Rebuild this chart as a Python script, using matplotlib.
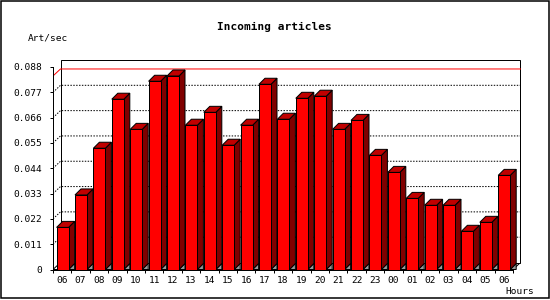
import matplotlib
matplotlib.use('Agg')
import matplotlib.pyplot as plt
from matplotlib.patches import Polygon, Rectangle
import numpy as np

# ---------------- data ----------------
hours = ['06', '07', '08', '09', '10', '11', '12', '13', '14', '15', '16', '17',
         '18', '19', '20', '21', '22', '23', '00', '01', '02', '03', '04', '05', '06']
rate = [0.0183, 0.0324, 0.0527, 0.0740, 0.0609, 0.0818, 0.0841, 0.0627, 0.0683,
        0.0540, 0.0627, 0.0805, 0.0653, 0.0744, 0.0753, 0.0609, 0.0648, 0.0496,
        0.0422, 0.0309, 0.0279, 0.0279, 0.0166, 0.0205, 0.0409]
yticks = [0, 0.011, 0.022, 0.033, 0.044, 0.055, 0.066, 0.077, 0.088]
ytick_labels = ['0', '0.011', '0.022', '0.033', '0.044', '0.055', '0.066', '0.077', '0.088']
title = 'Incoming articles'
ylabel = 'Art/sec'
xlabel = 'Hours'

# ---------------- layout ----------------
W, H = 550, 300
PX_CAT = 18.4            # pixels per category
YTOP = yticks[-1]
PX_Y = 202.5 / YTOP      # pixels per unit value
X0_PX, Y0_PX = 53, 269.5  # front origin (pixels from top-left)
RIGHT_PX, TOP_PX = 521, 60

FONT = 'DejaVu Sans Mono'
FS = 6.8

fig = plt.figure(figsize=(W / 100, H / 100), dpi=100)
ax = fig.add_axes([X0_PX / W, (H - Y0_PX) / H, (RIGHT_PX - X0_PX) / W, (Y0_PX - TOP_PX) / H])
n = len(rate)
ax.set_xlim(-0.5, -0.5 + (RIGHT_PX - X0_PX) / PX_CAT)
ax.set_ylim(0, (Y0_PX - TOP_PX) / PX_Y)

# depth offsets in data units
wdx, wdy = 7.5 / PX_CAT, 7 / PX_Y      # wall depth
bdx, bdy = 6 / PX_CAT, 6 / PX_Y        # bar depth
xend = n - 0.5
LW = 0.72

# floor
floor = Polygon([(-0.5, 0), (xend, 0), (xend + wdx, wdy), (-0.5 + wdx, wdy)],
                closed=True, facecolor='white', edgecolor='black', lw=LW, zorder=1)
ax.add_patch(floor)
# back wall
wall = Rectangle((-0.5 + wdx, wdy), n, YTOP, facecolor='white', edgecolor='black',
                 lw=LW, zorder=1)
ax.add_patch(wall)

# grid lines (dotted, on left wall diagonal + back wall)
for t in yticks[1:-1]:
    ax.plot([-0.5, -0.5 + wdx, xend + wdx], [t, t + wdy, t + wdy], color='black',
            lw=LW, dashes=(1.44, 1.44), zorder=2, solid_capstyle='butt')

# max line
m = max(rate)
ax.plot([-0.5, -0.5 + wdx, xend + wdx], [m, m + wdy, m + wdy], color='#ff0000',
        lw=LW, zorder=2)

# bars
bw = 12 / PX_CAT
x_left = np.arange(n) - 0.5 + 3.6 / PX_CAT
ax.bar(x_left, rate, width=bw, align='edge', color='#ff0000', edgecolor='black',
       linewidth=LW, zorder=5)
for xl, v in zip(x_left, rate):
    xr = xl + bw
    ax.add_patch(Polygon([(xr, 0), (xr + bdx, bdy), (xr + bdx, 0)], closed=True,
                         facecolor='#999999', edgecolor='black', lw=LW, zorder=4))
    ax.add_patch(Polygon([(xr, 0), (xr + bdx, bdy), (xr + bdx, v + bdy), (xr, v)],
                         closed=True, facecolor='#800000', edgecolor='black',
                         lw=LW, zorder=4))
    ax.add_patch(Polygon([(xl, v), (xr, v), (xr + bdx, v + bdy), (xl + bdx, v + bdy)],
                         closed=True, facecolor='#c00000', edgecolor='black',
                         lw=LW, zorder=4))

# axes spines / ticks
for s in ['top', 'right']:
    ax.spines[s].set_visible(False)
ax.spines['left'].set_bounds(0, YTOP)
ax.spines['bottom'].set_bounds(-0.5, xend)
for s in ['left', 'bottom']:
    ax.spines[s].set_linewidth(LW)
    ax.spines[s].set_zorder(6)
ax.patch.set_visible(False)

ax.set_yticks(yticks)
ax.set_yticklabels(ytick_labels, fontfamily=FONT, fontsize=FS)
ax.tick_params(axis='y', length=2.5, width=LW, direction='out', pad=5)

ax.set_xticks(np.arange(n + 1) - 0.5)
ax.set_xticklabels([])
ax.set_xticks(np.arange(n), minor=True)
ax.set_xticklabels(hours, minor=True, fontfamily=FONT, fontsize=FS)
ax.tick_params(axis='x', which='major', length=2.5, width=LW, direction='out')
ax.tick_params(axis='x', which='minor', length=0, pad=5)

# texts
fig.text(274 / W, 1 - 27 / H, title, ha='center', va='center', fontfamily=FONT,
         fontsize=8, fontweight='bold')
fig.text(28 / W, 1 - 38 / H, ylabel, ha='left', va='center', fontfamily=FONT, fontsize=FS)
fig.text(505 / W, 1 - 292 / H, xlabel, ha='left', va='center', fontfamily=FONT, fontsize=FS)

# outer border
fig.patches.append(Rectangle((0.5 / W, 2 / H), 548 / W, 297.5 / H, transform=fig.transFigure,
                             fill=False, edgecolor='black', lw=1.1))

fig.savefig('out.png', dpi=100)
